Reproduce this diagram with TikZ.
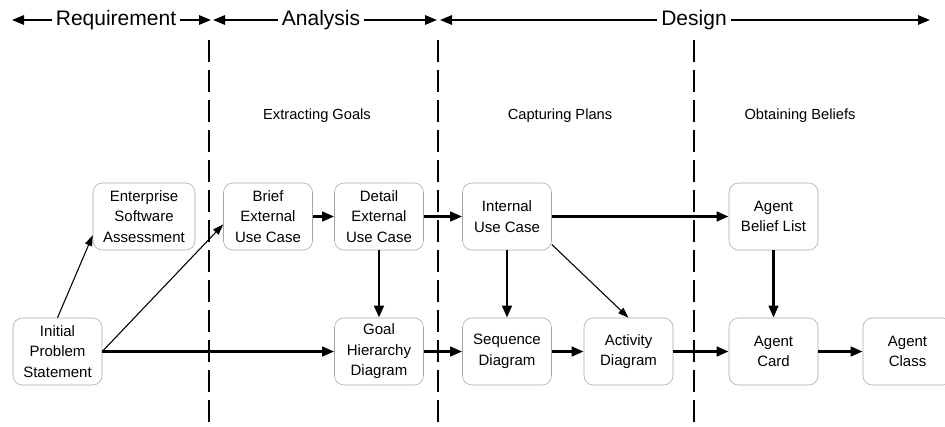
\documentclass[tikz,border=0pt]{standalone}
\usepackage{fontspec}
\setmainfont{Liberation Sans}
\usetikzlibrary{arrows.meta}

\begin{document}
\begin{tikzpicture}[x=0.75pt, y=-0.75pt, >={Triangle[length=9pt, width=7pt]},
  box/.style={draw=gray!70, rounded corners=7pt, align=center, inner sep=1pt,
    minimum width=66.75pt, minimum height=50.25pt,
    font=\fontsize{11.25}{15.4}\selectfont},
  flow/.style={->, line width=2.2pt},
  link/.style={-{Triangle[length=8pt, width=5.5pt]}, line width=0.8pt},
  phase/.style={font=\fontsize{15.75}{18}\selectfont, inner sep=3pt},
  span/.style={->, line width=1.5pt},
  stage/.style={font=\fontsize{11}{13}\selectfont},
  divider/.style={line width=1.5pt, dash pattern=on 16.5pt off 6pt}]

  \useasboundingbox (0,0) rectangle (945,426);
  \clip (0,0) rectangle (945,426);

  % Phases
  \coordinate (reqL) at (12,20);
  \coordinate (reqR) at (211,20);
  \node[phase] (req) at (116,20) {Requirement};
  \draw[span] (req.west) -- (reqL);
  \draw[span] (req.east) -- (reqR);

  \coordinate (anaL) at (213,20);
  \coordinate (anaR) at (437,20);
  \node[phase] (ana) at (321,20) {Analysis};
  \draw[span] (ana.west) -- (anaL);
  \draw[span] (ana.east) -- (anaR);

  \coordinate (desL) at (440,20);
  \coordinate (desR) at (930,20);
  \node[phase] (des) at (694,20) {Design};
  \draw[span] (des.west) -- (desL);
  \draw[span] (des.east) -- (desR);

  % Dividers
  \draw[divider] (209,40) -- (209,426);
  \draw[divider] (438,40) -- (438,426);
  \draw[divider] (694,40) -- (694,426);

  % Stages
  \node[stage] (goals) at (317,116) {Extracting Goals};
  \node[stage] (plans) at (560,116) {Capturing Plans};
  \node[stage] (beliefs) at (800,116) {Obtaining Beliefs};

  % Artefacts
  \node[box] (init) at (57.5,351.5) {Initial\\Problem\\Statement};
  \node[box, minimum width=76.5pt] (esa) at (144,216.5) {Enterprise\\Software\\Assessment};
  \node[box] (brief) at (268,216.5) {Brief\\External\\Use Case};
  \node[box] (detail) at (379,216.5) {Detail\\External\\Use Case};
  \node[box] (goal) at (379,351.5) {Goal\\Hierarchy\\Diagram};
  \node[box] (internal) at (507,216.5) {Internal\\Use Case};
  \node[box] (seq) at (507,351.5) {Sequence\\Diagram};
  \node[box] (act) at (628.5,351.5) {Activity\\Diagram};
  \node[box] (belief) at (773.5,216.5) {Agent\\Belief List};
  \node[box] (card) at (773.5,351.5) {Agent\\Card};
  \node[box] (class) at (907.5,351.5) {Agent\\Class};

  % Links
  \draw[link] (init.north) -- (esa.200);
  \draw[link] (init.east) -- (brief.190);
  \draw[link] (internal.-32) -- (act.north);

  % Flow
  \draw[flow] (init.east) -- (goal.west);
  \draw[flow] (brief.east) -- (detail.west);
  \draw[flow] (detail.east) -- (internal.west);
  \draw[flow] (detail.south) -- (goal.north);
  \draw[flow] (goal.east) -- (seq.west);
  \draw[flow] (internal.east) -- (belief.west);
  \draw[flow] (internal.south) -- (seq.north);
  \draw[flow] (seq.east) -- (act.west);
  \draw[flow] (act.east) -- (card.west);
  \draw[flow] (belief.south) -- (card.north);
  \draw[flow] (card.east) -- (class.west);
\end{tikzpicture}
\end{document}
